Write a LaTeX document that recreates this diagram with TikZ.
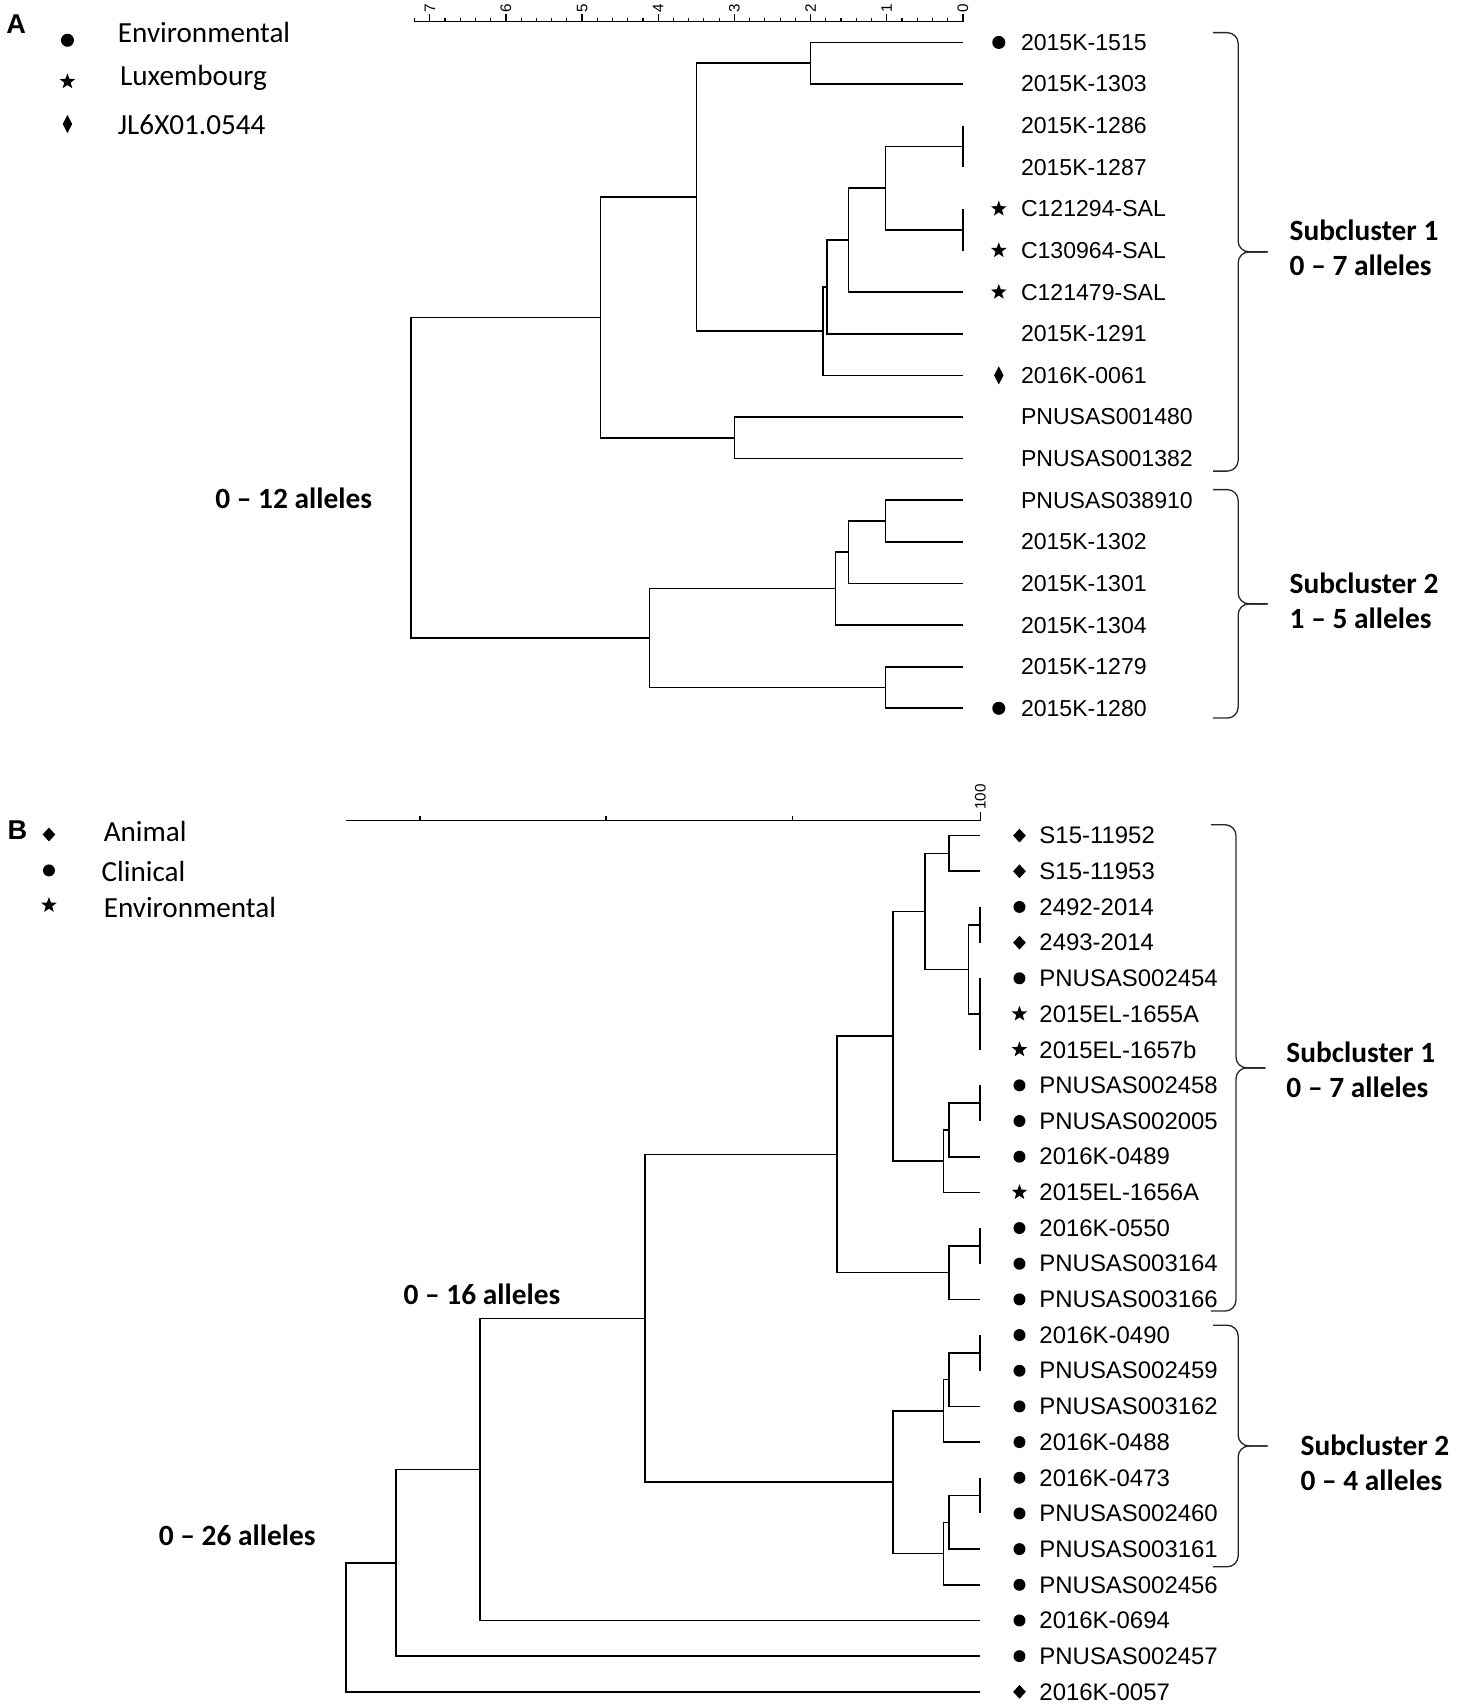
\documentclass[tikz,border=0pt]{standalone}
\usepackage{fontspec}
\setmainfont{Liberation Sans}
\newfontfamily\calib{Carlito}
\usetikzlibrary{positioning,calc,shapes.geometric}

\tikzset{
	branch/.style={line width=0.75pt},
	leafA/.style={font=\fontsize{10.6}{12}\selectfont, inner sep=0pt},
	leafB/.style={font=\fontsize{11}{12}\selectfont, inner sep=0pt},
	dotmk/.style={circle, fill, inner sep=0pt, minimum size=6pt},
	dotsm/.style={circle, fill, inner sep=0pt, minimum size=5.5pt},
	starmk/.style={star, star points=5, star point ratio=2.4, fill, inner sep=0pt, minimum size=7.5pt},
	diaA/.style={diamond, fill, inner sep=0pt, minimum width=4.5pt, minimum height=8.5pt},
	diaB/.style={diamond, fill, inner sep=0pt, minimum width=6pt, minimum height=6.5pt},
	legtxt/.style={font=\calib\fontsize{13.4}{15}\selectfont, anchor=west, inner sep=0pt},
	bold/.style={font=\calib\bfseries\fontsize{13.5}{15}\selectfont, inner sep=0pt},
	panel/.style={font=\bfseries\fontsize{12.5}{14}\selectfont, inner sep=0pt},
	ticklab/.style={font=\fontsize{7}{8}\selectfont, rotate=90, anchor=west, inner sep=0.5pt},
	sbrace/.style={line width=0.6pt, black!85, rounded corners=5pt},
}

% join two children at horizontal position #2
\newcommand\joinclade[4]{%
	\coordinate (#1x) at (#2,0);
	\coordinate (#1y) at ($(#3)!.5!(#4)$);
	\coordinate (#1) at (#1x |- #1y);
	\draw[branch] (#3) -| (#1) |- (#4);}

% curly bracket of a subcluster: name, x, top, bottom
\newcommand\subbrace[4]{%
	\coordinate (#1t) at (#2,#3);
	\coordinate (#1b) at (#2,#4);
	\coordinate (#1m) at ($(#1t)!.5!(#1b)$);
	\draw[sbrace] (#1t) -| ([xshift=11.5pt]#1m) -- ([xshift=25pt]#1m);
	\draw[sbrace] (#1b) -| ([xshift=11.5pt]#1m) -- ([xshift=25pt]#1m);}

\begin{document}
\begin{tikzpicture}[x=0.5pt,y=-0.5pt]
	\useasboundingbox (0,0) rectangle (1339,1568);

	% ---------- panel A ----------
	\node[panel] (pa) at (15,22) {A};
	\node[dotmk] (lma1) at (62,37) {};
	\node[legtxt] (lga1) at (108,30) {Environmental};
	\node[starmk] (lma2) at (62,75) {};
	\node[legtxt] (lga2) at (110,72) {Luxembourg};
	\node[diaA] (lma3) at (62,114) {};
	\node[legtxt] (lga3) at (108,115) {JL6X01.0544};

	% scale
	\draw[line width=0.6pt] (381,20) -- (885,20);
	\foreach \m in {1,...,36}
		\draw[line width=0.5pt] (885-14*\m,20) -- ++(0,-3);
	\foreach \k in {0,...,7}
		\draw[line width=0.6pt] (885-70*\k,20) -- ++(0,-7) node[ticklab] (ta\k) {\k};

	% leaves
	\foreach \t [count=\i from 0] in {2015K-1515,2015K-1303,2015K-1286,2015K-1287,C121294-SAL,C130964-SAL,C121479-SAL,2015K-1291,2016K-0061,PNUSAS001480,PNUSAS001382,PNUSAS038910,2015K-1302,2015K-1301,2015K-1304,2015K-1279,2015K-1280}{
		\coordinate (a\i) at (885,{39+38.25*\i});
		\node[leafA, right=26.5pt of a\i] (la\i) {\t};
	}
	\foreach \i/\s in {0/dotmk,4/starmk,5/starmk,6/starmk,8/diaA,16/dotmk}
		\node[\s] (ma\i) at ([xshift=-10pt]la\i.west) {};

	% tree
	\joinclade{p1}{745}{a0}{a1}
	\joinclade{z1}{885}{a2}{a3}
	\joinclade{z2}{885}{a4}{a5}
	\joinclade{p2}{814}{z1}{z2}
	\joinclade{p3}{780}{p2}{a6}
	\joinclade{p4}{760}{p3}{a7}
	\joinclade{p5}{756.5}{p4}{a8}
	\joinclade{p6}{640}{p1}{p5}
	\joinclade{p7}{675}{a9}{a10}
	\joinclade{p8}{552}{p6}{p7}
	\joinclade{q1}{814}{a11}{a12}
	\joinclade{q2}{780}{q1}{a13}
	\joinclade{q3}{768}{q2}{a14}
	\joinclade{q4}{814}{a15}{a16}
	\joinclade{q5}{597}{q3}{q4}
	\joinclade{ra}{378}{p8}{q5}

	\node[bold] (ala) at (270,458) {0 – 12 alleles};

	% subclusters
	\subbrace{sa1}{1115}{30}{433}
	\node[bold, anchor=west] (sa1n) at (1185,212) {Subcluster 1};
	\node[bold, anchor=west] (sa1r) at (1185,244) {0 – 7 alleles};
	\subbrace{sa2}{1115}{450}{660}
	\node[bold, anchor=west] (sa2n) at (1185,536) {Subcluster 2};
	\node[bold, anchor=west] (sa2r) at (1185,568) {1 – 5 alleles};

	% ---------- panel B ----------
	\node[panel] (pb) at (16,763) {B};
	\node[diaB] (lmb1) at (45,767) {};
	\node[legtxt] (lgb1) at (95,764) {Animal};
	\node[dotsm] (lmb2) at (45,800) {};
	\node[legtxt] (lgb2) at (93,801) {Clinical};
	\node[starmk] (lmb3) at (45,832) {};
	\node[legtxt] (lgb3) at (95,834) {Environmental};

	% scale
	\draw[line width=0.7pt] (318,754) -- (901,754) -- (901,746) node[ticklab] (tb) {100};
	\foreach \x in {386,557,728}
		\draw[line width=0.5pt] (\x,754) -- ++(0,-4);

	% leaves
	\foreach \t/\s [count=\i from 0] in {S15-11952/diaB,S15-11953/diaB,2492-2014/dotsm,2493-2014/diaB,PNUSAS002454/dotsm,2015EL-1655A/starmk,2015EL-1657b/starmk,PNUSAS002458/dotsm,PNUSAS002005/dotsm,2016K-0489/dotsm,2015EL-1656A/starmk,2016K-0550/dotsm,PNUSAS003164/dotsm,PNUSAS003166/dotsm,2016K-0490/dotsm,PNUSAS002459/dotsm,PNUSAS003162/dotsm,2016K-0488/dotsm,2016K-0473/dotsm,PNUSAS002460/dotsm,PNUSAS003161/dotsm,PNUSAS002456/dotsm,2016K-0694/dotsm,PNUSAS002457/dotsm,2016K-0057/diaB}{
		\coordinate (b\i) at (901,{768+32.79*\i});
		\node[leafB, right=27pt of b\i] (lb\i) {\t};
		\node[\s] (mb\i) at ([xshift=-9pt]lb\i.west) {};
	}

	% tree
	\joinclade{ba}{872}{b0}{b1}
	\joinclade{bz23}{901}{b2}{b3}
	\joinclade{bz456}{901}{b4}{b6}
	\joinclade{bc}{890}{bz23}{bz456}
	\joinclade{be}{850}{ba}{bc}
	\joinclade{bz78}{901}{b7}{b8}
	\joinclade{bg}{872}{bz78}{b9}
	\joinclade{bh}{867}{bg}{b10}
	\joinclade{bi}{821}{be}{bh}
	\joinclade{bz1112}{901}{b11}{b12}
	\joinclade{bk}{872}{bz1112}{b13}
	\joinclade{bl}{769}{bi}{bk}
	\joinclade{bz1415}{901}{b14}{b15}
	\joinclade{bn}{872}{bz1415}{b16}
	\joinclade{bo}{867}{bn}{b17}
	\joinclade{bz1819}{901}{b18}{b19}
	\joinclade{bq}{872}{bz1819}{b20}
	\joinclade{br}{867}{bq}{b21}
	\joinclade{bs}{821}{bo}{br}
	\joinclade{bt}{593}{bl}{bs}
	\joinclade{bu}{441}{bt}{b22}
	\joinclade{bv}{364}{bu}{b23}
	\joinclade{bw}{318}{bv}{b24}

	\node[bold] (alb1) at (443,1190) {0 – 16 alleles};
	\node[bold] (alb2) at (218,1411) {0 – 26 alleles};

	% subclusters
	\subbrace{sb1}{1113}{758}{1205}
	\node[bold, anchor=west] (sb1n) at (1182,967) {Subcluster 1};
	\node[bold, anchor=west] (sb1r) at (1182,999) {0 – 7 alleles};
	\subbrace{sb2}{1115}{1218}{1440}
	\node[bold, anchor=west] (sb2n) at (1195,1328) {Subcluster 2};
	\node[bold, anchor=west] (sb2r) at (1195,1361) {0 – 4 alleles};
\end{tikzpicture}
\end{document}
